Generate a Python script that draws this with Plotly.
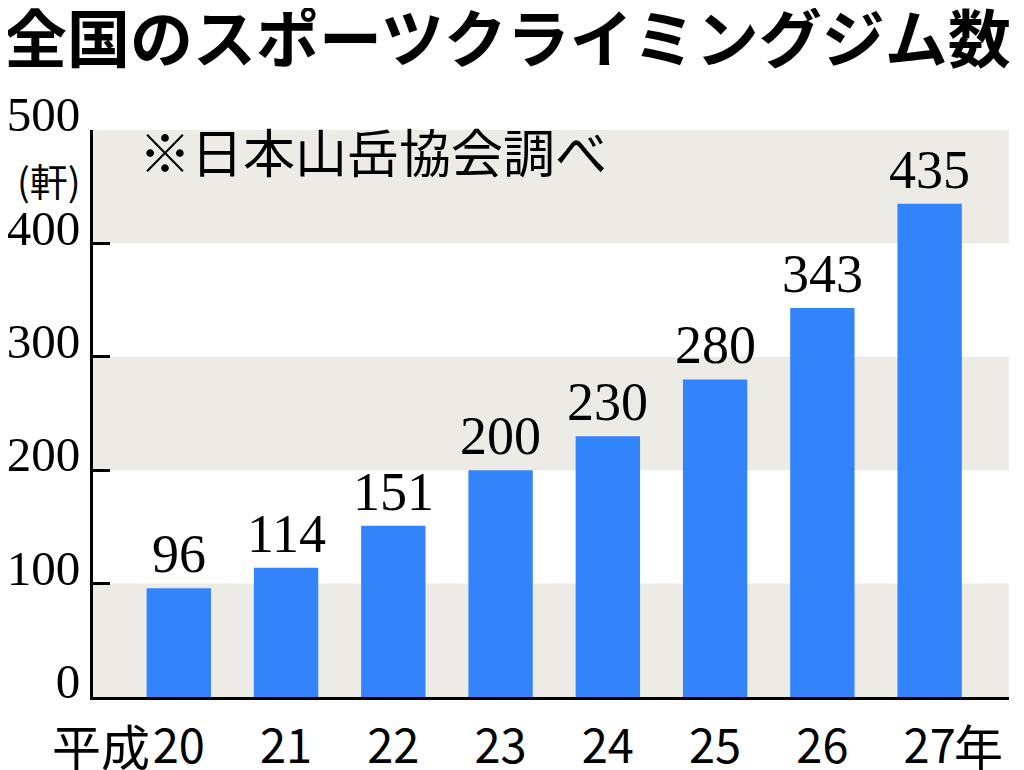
import plotly.graph_objects as go

# data
years = ["20", "21", "22", "23", "24", "25", "26", "27"]
gyms = [96, 114, 151, 200, 230, 280, 343, 435]
y_ticks = [0, 100, 200, 300, 400, 500]
bands = [(0, 100), (200, 300), (400, 500)]

title = "全国のスポーツクライミングジム数"
note = "※日本山岳協会調べ"
unit = "(軒)"

SERIF = "Liberation Serif"
GOTHIC = "Noto Sans CJK JP"
BAR = "#3383fb"
BAND = "#ecebe6"

xs = list(range(len(years)))

fig = go.Figure()
fig.add_trace(go.Bar(x=xs, y=gyms, width=0.6, marker=dict(color=BAR, line=dict(width=0)),
                     hoverinfo="skip"))

# grey bands behind the bars
for lo, hi in bands:
    fig.add_shape(type="rect", xref="paper", yref="y", x0=0, x1=1, y0=lo, y1=hi,
                  fillcolor=BAND, line=dict(width=0), layer="below")

# value labels above bars
for x, v in zip(xs, gyms):
    fig.add_annotation(x=x, y=v, text=str(v), showarrow=False, yanchor="bottom", yshift=2,
                       font=dict(family=SERIF, size=54, color="black"))

# prefix / suffix on the category labels
fig.add_annotation(x=xs[0], xref="x", y=0, yref="paper", text="平成", showarrow=False,
                   xanchor="right", xshift=-27, yanchor="middle", yshift=-47,
                   font=dict(family=GOTHIC, size=49, color="black"))
fig.add_annotation(x=xs[-1], xref="x", y=0, yref="paper", text="年", showarrow=False,
                   xanchor="left", xshift=22, yanchor="middle", yshift=-47,
                   font=dict(family=GOTHIC, size=49, color="black"))

fig.add_annotation(x=0, xref="paper", y=500, yref="y", text=unit, showarrow=False,
                   xanchor="right", xshift=-10, yanchor="top", yshift=-20,
                   font=dict(family=GOTHIC, size=38, color="black"))
fig.add_annotation(x=0, xref="paper", y=500, yref="y", text=note, showarrow=False,
                   xanchor="left", xshift=44, yanchor="top", yshift=19,
                   font=dict(family=GOTHIC, size=52, color="black"))

fig.add_annotation(x=0, xref="paper", y=1, yref="paper", text="<b>" + title + "</b>",
                   showarrow=False, xanchor="left", xshift=-91, yanchor="bottom", yshift=48,
                   font=dict(family=GOTHIC, size=63, color="black"))

fig.update_xaxes(range=[-0.8, 7.74], tickvals=xs, ticktext=years, ticks="",
                 showline=True, linecolor="black", linewidth=3, showgrid=False,
                 zeroline=False, ticklabelstandoff=7, automargin=False,
                 tickfont=dict(family=GOTHIC, size=47, color="black"))
fig.update_yaxes(range=[0, 500], tickvals=y_ticks, ticks="inside", ticklen=17, tickwidth=3,
                 tickcolor="black", showline=True, linecolor="black", linewidth=3,
                 showgrid=False, zeroline=False, ticklabelstandoff=0, ticklabelshift=-16,
                 automargin=False, tickfont=dict(family=SERIF, size=49, color="black"))

# page adds an 8px body margin, so the figure is 8px smaller than the window
fig.update_layout(width=1016, height=762, margin=dict(l=85, r=15, t=122, b=73),
                  plot_bgcolor="white", paper_bgcolor="white", showlegend=False,
                  font=dict(family=GOTHIC), bargap=0.4)

fig.write_html("out.html")
